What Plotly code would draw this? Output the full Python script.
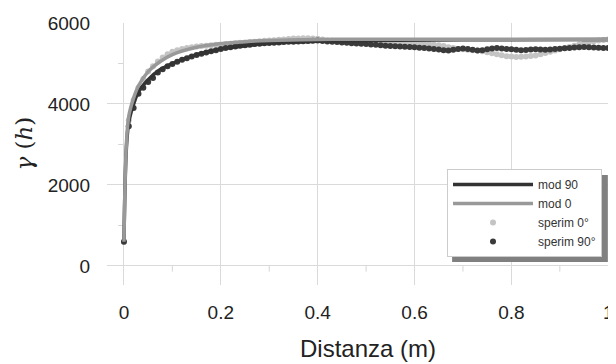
import plotly.graph_objects as go

# distance (m) for the experimental points
dist_exp = [round(i * 0.01, 2) for i in range(101)]

sperim_90 = [
    600, 3450, 3900, 4250, 4400, 4540, 4640, 4780, 4860, 4930,
    4990, 5040, 5090, 5130, 5170, 5210, 5240, 5270, 5300, 5330,
    5360, 5380, 5400, 5420, 5440, 5450, 5465, 5480, 5490, 5500,
    5505, 5515, 5520, 5530, 5535, 5540, 5545, 5550, 5555, 5560,
    5565, 5555, 5545, 5540, 5530, 5520, 5510, 5500, 5495, 5490,
    5480, 5470, 5460, 5450, 5440, 5430, 5425, 5420, 5415, 5410,
    5400, 5390, 5380, 5370, 5360, 5345, 5330, 5320, 5340, 5360,
    5370, 5360, 5340, 5320, 5330, 5350, 5370, 5380, 5370, 5360,
    5350, 5340, 5330, 5335, 5345, 5350, 5345, 5340, 5345, 5355,
    5365, 5375, 5385, 5395, 5400, 5405, 5400, 5395, 5390, 5385,
    5380,
]

sperim_0 = [
    600, 3600, 4100, 4400, 4620, 4800, 4930, 5050, 5150, 5230,
    5290, 5330, 5360, 5380, 5400, 5420, 5430, 5440, 5450, 5460,
    5470, 5480, 5490, 5500, 5510, 5520, 5530, 5540, 5550, 5560,
    5570, 5575, 5585, 5595, 5605, 5615, 5620, 5625, 5625, 5620,
    5610, 5590, 5570, 5560, 5550, 5545, 5540, 5535, 5530, 5525,
    5520, 5515, 5510, 5505, 5500, 5500, 5505, 5510, 5515, 5520,
    5510, 5495, 5485, 5480, 5465, 5450, 5430, 5400, 5380, 5360,
    5350, 5340, 5330, 5320, 5300, 5280, 5255, 5230, 5205, 5180,
    5170, 5160, 5165, 5170, 5185, 5200, 5230, 5260, 5290, 5320,
    5350, 5380, 5410, 5440, 5470, 5500, 5525, 5550, 5565, 5580,
    5590,
]

# model curves
dist_mod = [0, 0.005, 0.01, 0.02, 0.03, 0.05, 0.075, 0.1, 0.15, 0.2,
            0.25, 0.3, 0.4, 0.5, 0.7, 1.0]
mod_0 = [600, 3000, 3700, 4150, 4450, 4800, 5050, 5220, 5400, 5490,
         5540, 5570, 5595, 5600, 5600, 5600]
mod_90 = [600, 2900, 3550, 4000, 4300, 4600, 4850, 5000, 5220, 5360,
          5440, 5500, 5550, 5570, 5585, 5590]

x_ticks = [0, 0.2, 0.4, 0.6, 0.8, 1]
x_labels = ["0", "0.2", "0.4", "0.6", "0.8", "1"]
y_ticks = [0, 2000, 4000, 6000]
x_minor = [0.1, 0.3, 0.5, 0.7, 0.9]
y_minor = [1000, 3000, 5000]

fig = go.Figure()

fig.add_trace(go.Scatter(
    x=dist_exp, y=sperim_0, mode="markers", name="sperim 0°",
    marker=dict(color="#c4c4c4", size=6), legendrank=3,
))
fig.add_trace(go.Scatter(
    x=dist_exp, y=sperim_90, mode="markers", name="sperim 90°",
    marker=dict(color="#3a3a3a", size=6), legendrank=4,
))
fig.add_trace(go.Scatter(
    x=dist_mod, y=mod_90, mode="lines", name="mod 90",
    line=dict(color="#333333", width=3.5, shape="spline"), legendrank=1,
))
fig.add_trace(go.Scatter(
    x=dist_mod, y=mod_0, mode="lines", name="mod 0",
    line=dict(color="#999999", width=3.5, shape="spline"), legendrank=2,
))

# small minor tick marks on the axes crossing at the origin
for v in x_minor:
    fig.add_shape(type="line", x0=v, x1=v, y0=0, y1=-140,
                  line=dict(color="#d6d6d6", width=1), layer="below")
for v in y_minor:
    fig.add_shape(type="line", x0=-0.012, x1=0, y0=v, y1=v,
                  line=dict(color="#d6d6d6", width=1), layer="below")

# shadow behind the legend box
fig.add_shape(
    type="rect", xref="paper", yref="paper",
    x0=0.678, x1=0.984, y0=0.088, y1=0.42,
    fillcolor="#808080", line=dict(width=0), layer="above",
)

# axis titles placed as in the original
fig.add_annotation(
    text="Distanza (m)", xref="paper", yref="paper",
    x=0.513, y=-0.244, xanchor="center", yanchor="middle",
    showarrow=False, font=dict(size=24, color="#222222"),
)
fig.add_annotation(
    text="<i>γ</i> (<i>h</i>)", xref="paper", yref="paper",
    x=-0.162, y=0.538, xanchor="center", yanchor="middle",
    textangle=-90, showarrow=False,
    font=dict(size=23, color="#222222",
              family="DejaVu Serif, Liberation Serif, serif"),
)

# the page adds an 8px body margin, so the figure is 8px smaller
fig.update_layout(
    width=608,
    height=356,
    margin=dict(l=99, r=0, t=15, b=79),
    template="plotly_white",
    plot_bgcolor="white",
    paper_bgcolor="white",
    font=dict(family="Liberation Sans, Arial, sans-serif", color="#222222"),
    legend=dict(
        x=0.668, y=0.443, xanchor="left", yanchor="top",
        bgcolor="white", bordercolor="#cccccc", borderwidth=1,
        font=dict(size=12, color="#333333"),
        itemwidth=80, tracegroupgap=0,
    ),
)
fig.update_xaxes(
    range=[-0.035, 1.016],
    tickvals=x_ticks, ticktext=x_labels,
    showgrid=True, gridcolor="#dadada", gridwidth=1,
    zeroline=False, showline=False, ticks="",
    tickfont=dict(size=19),
    ticklabelstandoff=14,
    ticklabeloverflow="allow",
    automargin=False,
)
fig.update_yaxes(
    range=[-470, 6000],
    tickvals=y_ticks,
    showgrid=True, gridcolor="#dadada", gridwidth=1,
    zeroline=False, showline=False, ticks="",
    tickfont=dict(size=19),
    ticklabelstandoff=16,
    automargin=False,
)

fig.write_html("out.html")
